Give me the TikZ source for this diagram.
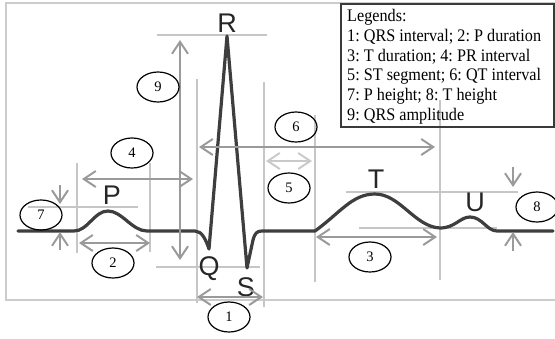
\documentclass[tikz,border=0pt]{standalone}
\usepackage{fontspec}
\setmainfont{Liberation Serif}
\newfontfamily\lsans{Liberation Sans}
\usetikzlibrary{arrows.meta,shapes.geometric}
\definecolor{cGuide}{HTML}{C6C6C6}
\definecolor{cArr}{HTML}{9A9A9A}
\definecolor{cArrLight}{HTML}{C9C9C9}
\definecolor{cTrace}{HTML}{3E3E3E}
\definecolor{cFrame}{HTML}{CCCCCC}
\definecolor{cBox}{HTML}{3A3A3A}
\newcommand{\legtext}[1]{\scalebox{1}[1.09]{#1}}
\tikzset{
  guideline/.style={draw=cGuide, line width=1.2pt},
  barb/.tip={Straight Barb[length=12pt,width=16pt,line width=2pt]},
  dimarrow/.style={draw=cArr, line width=2.2pt, barb-barb},
  dimlight/.style={draw=cArrLight, line width=2.2pt, barb-barb},
  onearrow/.style={draw=cArr, line width=2.2pt, -barb},
  numoval/.style={ellipse, draw=black, line width=1.2pt, minimum width=42pt, minimum height=30pt, inner sep=0pt, font=\fontsize{14.5}{14.5}\selectfont},
  wavelabel/.style={anchor=base, inner sep=0pt, text=black!85, font=\lsans\fontsize{27}{27}\selectfont},
  legline/.style={anchor=base west, inner sep=0pt, font=\frenchspacing\fontsize{16.2}{19.7}\selectfont},
  tracepath/.style={draw=cTrace, line width=3.2pt, line join=round, line cap=round}
}
\begin{document}
\frenchspacing
\begin{tikzpicture}[x=1pt, y=-1pt]
\useasboundingbox (0,0) rectangle (555,338);
% outer frame
\draw[draw=cFrame, line width=1.5pt] (560,3) -- (6,3) -- (6,300) -- (560,300);

% guide lines
\draw[guideline] (157,35) -- (267,35);
\draw[guideline] (197,79) -- (197,303);
\draw[guideline] (264,82) -- (264,307);
\draw[guideline] (77,163) -- (77,253);
\draw[guideline] (150,163) -- (150,252);
\draw[guideline] (28,207) -- (138,207);
\draw[guideline] (156,267) -- (260,267);
\draw[guideline] (315,115) -- (315,282);
\draw[guideline] (440,100) -- (440,280);
\draw[guideline] (346,192) -- (518,192);
\draw[guideline] (359,228) -- (497,228);

% ECG trace
\draw[tracepath] (18,231) -- (74,231)
  .. controls (88,231) and (94,211) .. (108,211)
  .. controls (122,211) and (132,231) .. (147,231)
  -- (195,231) .. controls (202,231) and (206,240) .. (209,249)
  -- (227,36) -- (247,268) -- (253,240)
  .. controls (255,233) and (257,231) .. (262,231)
  -- (315,231)
  .. controls (340,213) and (352,194) .. (375,194)
  .. controls (400,194) and (415,227) .. (440,228)
  .. controls (455,228) and (460,217) .. (470,217)
  .. controls (482,217) and (487,231) .. (497,231)
  -- (553,231);

% wave labels
\node[wavelabel] (lR) at (227,32) {R};
\node[wavelabel] (lP) at (112,204) {P};
\node[wavelabel] (lQ) at (209,275) {Q};
\node[wavelabel] (lS) at (246,296) {S};
\node[wavelabel] (lT) at (376,188) {T};
\node[wavelabel] (lU) at (475,211) {U};

% dimension arrows
\draw[dimarrow] (180,40) -- (180,260);
\draw[dimarrow] (82,179) -- (193,179);
\draw[dimarrow] (199,147) -- (435,147);
\draw[dimlight] (266,161) -- (312,161);
\draw[dimarrow] (79,243) -- (150,243);
\draw[dimarrow] (197,297) -- (263,297);
\draw[dimarrow] (316,237) -- (437,237);
\draw[onearrow] (60,185) -- (60,204);
\draw[onearrow] (60,250) -- (60,232);
\draw[onearrow] (513,167) -- (513,187);
\draw[onearrow] (513,251) -- (513,232);

% numbered ovals
\node[numoval] (n9) at (158,87) {9};
\node[numoval] (n4) at (132,153) {4};
\node[numoval] (n7) at (41,215) {7};
\node[numoval] (n2) at (113,263) {2};
\node[numoval] (n6) at (296,127) {6};
\node[numoval] (n5) at (289,188) {5};
\node[numoval] (n1) at (229,317) {1};
\node[numoval] (n3) at (370,257) {3};
\node[numoval, fill=white] (n8) at (537,207) {8};

% legend
\draw[draw=cBox, line width=1.8pt] (341,4) rectangle (554,127);
\node[legline] (leg0) at (347,21.7) {\legtext{Legends:}};
\node[legline] (leg1) at (347,41.4) {\legtext{1: QRS interval; 2: P duration}};
\node[legline] (leg2) at (347,61.1) {\legtext{3: T duration; 4: PR interval}};
\node[legline] (leg3) at (347,80.8) {\legtext{5: ST segment; 6: QT interval}};
\node[legline] (leg4) at (347,100.5) {\legtext{7: P height; 8: T height}};
\node[legline] (leg5) at (347,120.2) {\legtext{9: QRS amplitude}};
\end{tikzpicture}
\end{document}
